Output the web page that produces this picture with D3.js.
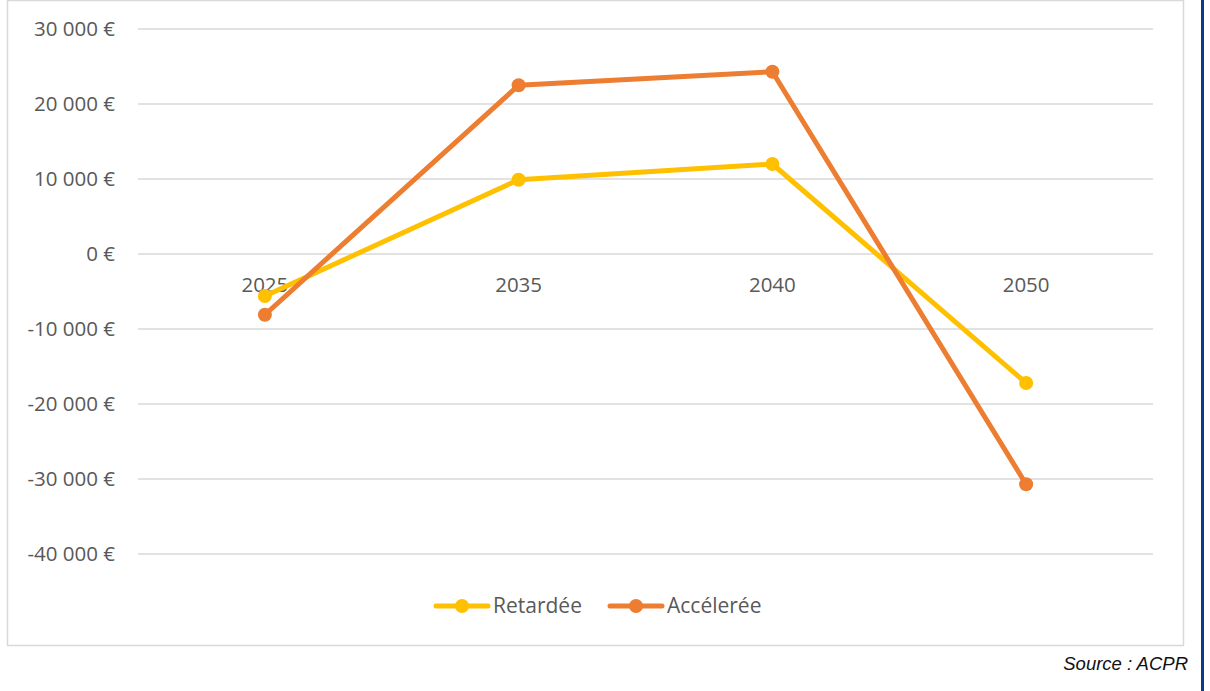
<!DOCTYPE html>
<html><head><meta charset="utf-8">
<script src="https://cdn.jsdelivr.net/npm/d3@7/dist/d3.min.js"></script>
<style>body{margin:0;background:#fff;}svg{display:block;}</style>
</head><body>
<script>
const categories = ["2025","2035","2040","2050"];
const retardee = [-5600, 9900, 12000, -17200];
const acceleree = [-8100, 22500, 24300, -30700];
const yTicks = [30000,20000,10000,0,-10000,-20000,-30000,-40000];
const seriesNames = ["Retardée","Accélerée"];
const colors = ["#FFC000","#ED7D31"];

const W=1210,H=691;
const svg=d3.select("body").append("svg").attr("width",W).attr("height",H);
const font="'Open Sans', Lato, sans-serif";

svg.append("rect").attr("x",7.5).attr("y",0.5).attr("width",1176).attr("height",645)
  .attr("fill","#fff").attr("stroke","#d9d9d9").attr("stroke-width",1.5);
svg.append("line").attr("x1",1202.5).attr("x2",1202.5).attr("y1",0).attr("y2",H)
  .attr("stroke","#0a3a8c").attr("stroke-width",3);

const x=d3.scalePoint().domain(categories).range([138,1153]).padding(0.5);
const y=d3.scaleLinear().domain([-40000,30000]).range([554,29]);

svg.append("g").selectAll("line").data(yTicks).join("line")
  .attr("x1",138).attr("x2",1153).attr("y1",d=>y(d)).attr("y2",d=>y(d))
  .attr("stroke","#d9d9d9").attr("stroke-width",1.5);

const fmt=d=>{const s=d3.format(",")(Math.abs(d)).replace(/,/g," ");return (d<0?"-":"")+s+" €";};
svg.append("g").selectAll("text").data(yTicks).join("text")
  .attr("x",115).attr("y",d=>y(d)).attr("dy","0.35em").attr("text-anchor","end")
  .attr("font-family",font).attr("font-size",20.5).attr("fill","#595959").text(fmt);

svg.append("g").selectAll("text").data(categories).join("text")
  .attr("x",d=>x(d)).attr("y",y(0)+31).attr("dy","0.35em").attr("text-anchor","middle")
  .attr("font-family",font).attr("font-size",20.5).attr("fill","#595959").text(d=>d);

const series=[retardee,acceleree];
const line=d3.line().x((d,i)=>x(categories[i])).y(d=>y(d));
series.forEach((s,k)=>{
  svg.append("path").datum(s).attr("d",line).attr("fill","none")
    .attr("stroke",colors[k]).attr("stroke-width",5).attr("stroke-linejoin","round").attr("stroke-linecap","round");
  svg.append("g").selectAll("circle").data(s).join("circle")
    .attr("cx",(d,i)=>x(categories[i])).attr("cy",d=>y(d)).attr("r",7).attr("fill",colors[k]);
});

const leg=[{x:434,name:seriesNames[0],c:colors[0]},{x:608,name:seriesNames[1],c:colors[1]}];
leg.forEach(l=>{
  const g=svg.append("g");
  g.append("line").attr("x1",l.x+2).attr("x2",l.x+54).attr("y1",606).attr("y2",606)
    .attr("stroke",l.c).attr("stroke-width",5).attr("stroke-linecap","round");
  g.append("circle").attr("cx",l.x+28).attr("cy",606).attr("r",7).attr("fill",l.c);
  g.append("text").attr("x",l.x+59).attr("y",606).attr("dy","0.35em")
    .attr("font-family",font).attr("font-size",21).attr("fill","#595959").text(l.name);
});

svg.append("text").attr("x",1188).attr("y",670).attr("text-anchor","end")
  .attr("font-family","'Liberation Sans', Arial, sans-serif").attr("font-style","italic")
  .attr("font-size",18.5).attr("fill","#111").text("Source : ACPR");
</script>
</body></html>
